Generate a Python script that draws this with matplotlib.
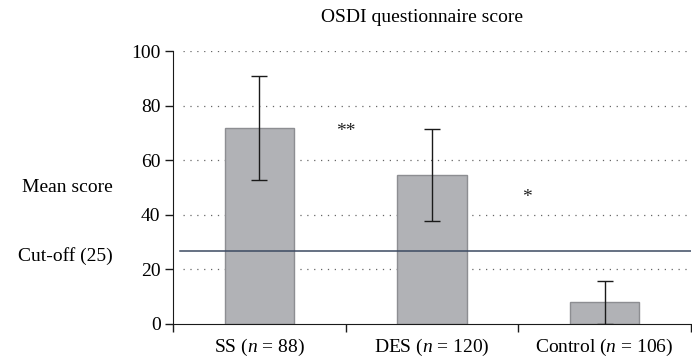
import matplotlib
matplotlib.use("Agg")
import matplotlib.pyplot as plt
import numpy as np

# data
groups = ["SS ($n$ = 88)", "DES ($n$ = 120)", "Control ($n$ = 106)"]
mean_score = [71.8, 54.6, 7.9]
sd_score = [19.0, 17.0, 7.9]
cutoff = 26.7
yticks = [0, 20, 40, 60, 80, 100]
# significance marks: (x position, y value, text)
sig_marks = [(0.5, 70.5, "**"), (1.55, 46.5, "*")]

plt.rcParams["font.family"] = ["Liberation Serif", "DejaVu Serif"]
plt.rcParams["mathtext.fontset"] = "custom"
plt.rcParams["mathtext.rm"] = "Liberation Serif"
plt.rcParams["mathtext.it"] = "Liberation Serif:italic"

FS = 14

fig = plt.figure(figsize=(6.92, 3.57), dpi=100)
ax = fig.add_axes([173 / 692, 1 - 324 / 357, 518 / 692, 273 / 357])

x = np.arange(len(groups))

# dotted grid (behind the bars)
for v in yticks[1:]:
    ax.plot([-0.44, 2.5], [v, v], color="#666666", lw=0.9,
            linestyle=(0, (1, 4.5)), zorder=0)

ax.bar(x, mean_score, width=0.4, color="#b1b2b6", edgecolor="#8d8e92",
       linewidth=1.0, zorder=2)
ax.errorbar(x, mean_score, yerr=sd_score, fmt="none", ecolor="#1a1a1a",
            elinewidth=1.0, capsize=5.5, capthick=1.0, zorder=3)

ax.plot([-0.46, 2.5], [cutoff, cutoff], color="#3c4a62", lw=1.1, zorder=4)

for sx, sy, s in sig_marks:
    ax.text(sx, sy, s, ha="center", va="center", fontsize=FS, color="#222222")

ax.set_xlim(-0.5, 2.5)
ax.set_ylim(0, 100)
for side in ["top", "right"]:
    ax.spines[side].set_visible(False)
ax.spines["left"].set_bounds(0, 100)
ax.spines["left"].set_color("#1a1a1a")
ax.spines["bottom"].set_color("#1a1a1a")

ax.set_yticks(yticks)
ax.tick_params(axis="y", length=6, width=1, pad=3, labelsize=FS,
               color="#1a1a1a")
ax.set_xticks(x)
ax.set_xticklabels(groups)
ax.tick_params(axis="x", which="major", length=0, pad=9, labelsize=FS)
ax.set_xticks([-0.5, 0.5, 1.5, 2.5], minor=True)
ax.tick_params(axis="x", which="minor", length=6, width=1, direction="out",
               color="#1a1a1a")

fig.text(422 / 692, 1 - 17 / 357, "OSDI questionnaire score", ha="center",
         va="center", fontsize=FS)
fig.text(113 / 692, 1 - 187 / 357, "Mean score", ha="right", va="center",
         fontsize=FS)
fig.text(113 / 692, 1 - 256 / 357, "Cut-off (25)", ha="right", va="center",
         fontsize=FS)

fig.savefig("out.png", dpi=100)
